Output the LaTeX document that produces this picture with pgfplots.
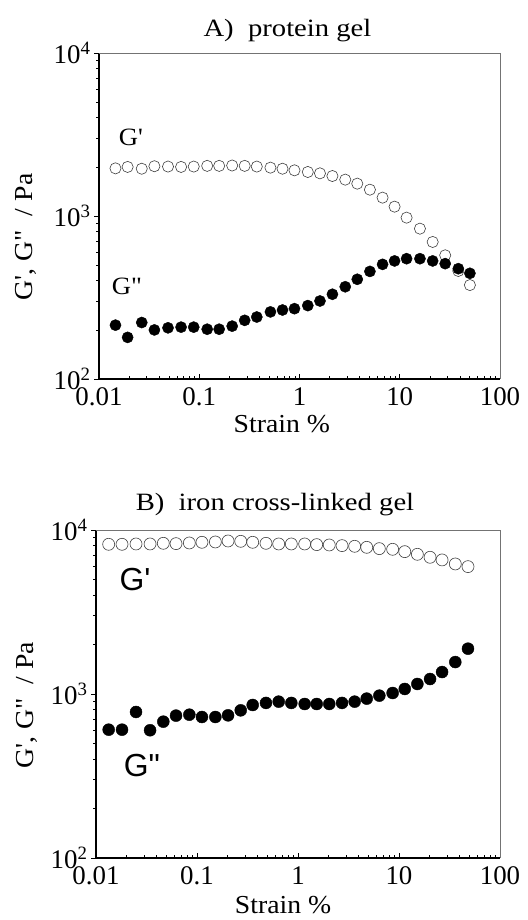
\documentclass[border=0pt]{standalone}
\usepackage{fontspec}
\setmainfont{Liberation Serif}[Ligatures=TeXOff]
\newfontfamily\titlefont{Liberation Serif}[Ligatures=TeXOff,FakeStretch=1.15]
\newfontfamily\labelfont{Liberation Serif}[Ligatures=TeXOff,FakeStretch=1.07]
\newfontfamily\arialfont{Liberation Sans}[Ligatures=TeXOff]
\usepackage{pgfplots}
\usepackage{pgfplotstable}
\pgfplotsset{compat=1.18}

\pgfplotstableread{
x Gp Gpp
0.0146 1960 214
0.0193 2000 180
0.0267 1950 222
0.0357 2020 200
0.0488 2010 206
0.0659 2000 208
0.0881 2010 208
0.120 2030 202
0.158 2030 202
0.213 2040 211
0.284 2030 229
0.375 2010 240
0.513 1980 258
0.677 1950 265
0.891 1906 270
1.21 1862 282
1.60 1827 301
2.13 1759 331
2.86 1671 368
3.77 1579 409
5.04 1450 457
6.74 1296 505
8.88 1141 530
11.7 977 547
15.9 836 547
21.3 693 530
28.4 574 510
38.4 460 475
50.1 377 445
}\proteintab

\pgfplotstableread{
x Gp Gpp
0.01335 8180 606
0.0181 8180 606
0.0249 8218 777
0.0343 8218 601
0.0464 8295 678
0.0620 8256 738
0.0840 8334 748
0.112 8413 724
0.152 8452 724
0.203 8570 741
0.271 8531 795
0.356 8413 857
0.482 8295 882
0.644 8218 898
0.859 8218 882
1.164 8218 869
1.531 8143 869
2.04 8104 869
2.73 8029 882
3.64 7954 898
4.79 7843 937
6.39 7698 977
8.65 7626 1014
11.4 7379 1073
15.2 7109 1151
20.3 6818 1234
26.7 6568 1361
36.1 6207 1566
48.2 5979 1889
}\irontab

\begin{document}
\begin{tikzpicture}
\useasboundingbox (0,0) rectangle (528bp,920bp);
\begin{axis}[
  scale only axis,
  xmode=log, ymode=log,
  xmin=0.01, xmax=100, ymin=100, ymax=10000,
  at={(99bp,541bp)}, anchor=south west,
  width=401bp, height=326bp,
  axis lines*=left,
  axis line style={line width=1.1bp, black},
  xtick={0.01,0.1,1,10,100},
  xticklabels={0.01,0.1,1,10,100},
  ytick={100,1000,10000},
  yticklabels={10\textsuperscript{2},10\textsuperscript{3},10\textsuperscript{4}},
  xtick align=inside,
  ytick align=outside,
  major tick length=5bp,
  minor tick length=3bp,
  tick style={black, line width=0.8bp},
  ticklabel style={font=\fontsize{27}{27}\selectfont},
  xticklabel style={yshift=-5bp},
  label style={font=\labelfont\fontsize{26}{26}\selectfont},
  clip=false,
  title={A)\ \ protein gel},
  title style={font=\titlefont\fontsize{25}{25}\selectfont, at={(axis description cs:0.47,1.052)}, anchor=center},
  xlabel={Strain \%},
  xlabel style={at={(axis description cs:0.456,-0.138)}, anchor=center},
  ylabel={G', G" \ / Pa},
  ylabel style={at={(axis description cs:-0.182,0.436)}, anchor=center},
]
\draw[black!55, line width=0.6bp] (rel axis cs:0,1) -- (rel axis cs:1,1) -- (rel axis cs:1,0);
\addplot[only marks, mark=o, mark size=5.6bp, mark options={black!75, line width=0.6bp}] table[x=x, y=Gp] {\proteintab};
\addplot[only marks, mark=*, mark size=5.6bp, mark options={black, fill=black}] table[x=x, y=Gpp] {\proteintab};
\node[font=\labelfont\fontsize{25}{25}\selectfont] at (axis cs:0.0208,3055) {G'};
\node[font=\labelfont\fontsize{25}{25}\selectfont] at (axis cs:0.019,372) {G"};
\end{axis}

\begin{axis}[
  scale only axis,
  xmode=log, ymode=log,
  xmin=0.01, xmax=100, ymin=100, ymax=10000,
  at={(96bp,62bp)}, anchor=south west,
  width=404bp, height=328bp,
  axis lines*=left,
  axis line style={line width=1.1bp, black},
  xtick={0.01,0.1,1,10,100},
  xticklabels={0.01,0.1,1,10,100},
  ytick={100,1000,10000},
  yticklabels={10\textsuperscript{2},10\textsuperscript{3},10\textsuperscript{4}},
  xtick align=inside,
  ytick align=outside,
  major tick length=5bp,
  minor tick length=3bp,
  tick style={black, line width=0.8bp},
  ticklabel style={font=\fontsize{27}{27}\selectfont},
  xticklabel style={yshift=-5bp},
  label style={font=\labelfont\fontsize{26}{26}\selectfont},
  clip=false,
  title={B)\ \ iron cross-linked gel},
  title style={font=\titlefont\fontsize{25}{25}\selectfont, at={(axis description cs:0.443,1.06)}, anchor=center},
  xlabel={Strain \%},
  xlabel style={at={(axis description cs:0.463,-0.143)}, anchor=center},
  ylabel={G', G" \ / Pa},
  ylabel style={at={(axis description cs:-0.171,0.466)}, anchor=center},
]
\draw[black!55, line width=0.6bp] (rel axis cs:0,1) -- (rel axis cs:1,1) -- (rel axis cs:1,0);
\addplot[only marks, mark=o, mark size=6bp, mark options={black!75, line width=0.6bp}] table[x=x, y=Gp] {\irontab};
\addplot[only marks, mark=*, mark size=6bp, mark options={black, fill=black}] table[x=x, y=Gpp] {\irontab};
\node[font=\arialfont\fontsize{32}{32}\selectfont] at (axis cs:0.0243,4955) {G'};
\node[font=\arialfont\fontsize{32}{32}\selectfont] at (axis cs:0.0285,364) {G"};
\end{axis}
\end{tikzpicture}
\end{document}
